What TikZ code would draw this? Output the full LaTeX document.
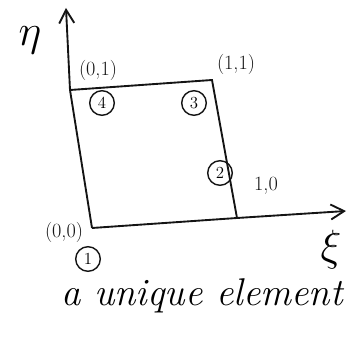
\documentclass[tikz,border=0pt]{standalone}
\usepackage{amsmath,amssymb}
\usepackage{tikz}
\usetikzlibrary{arrows.meta,positioning}
\definecolor{InkBlack}{RGB}{20,20,20}
\tikzset{
  vertexnum/.style={circle,draw=InkBlack,line width=1.2pt,inner sep=0.5pt,minimum size=21pt,font=\Large},
  cornerlabel/.style={font=\LARGE,text=InkBlack},
  axislabel/.style={font=\huge,scale=1.8,transform shape},
  axisline/.style={line width=1.6pt,draw=InkBlack,-{Straight Barb[length=4mm,width=4.5mm]}}
}
\begin{document}
\begin{tikzpicture}[x=0.03cm,y=-0.03cm]
  \useasboundingbox (0,0) rectangle (353,338);
  % corners of the element
  \coordinate (c1) at (92,228);
  \coordinate (c2) at (237,218);
  \coordinate (c3) at (212,80);
  \coordinate (c4) at (70,90);
  \coordinate (etatip) at (66,8);
  \coordinate (xitip) at (346,211);
  % axes
  \draw[axisline] (c1) -- (c4) -- (etatip);
  \draw[axisline] (c1) -- (c2) -- (xitip);
  % element edges
  \draw[line width=1.6pt,InkBlack] (c4) -- (c3) -- (c2);
  \node[axislabel] (eta) at (30,40) {$\eta$};
  \node[axislabel] (xi) at (331,250) {$\xi$};
  % corner labels
  \node[cornerlabel] (l1) at (64,232) {(0,0)};
  \node[cornerlabel] (l2) at (266,186) {1,0};
  \node[cornerlabel] (l3) at (236,64) {(1,1)};
  \node[cornerlabel] (l4) at (98,70) {(0,1)};
  % node numbers
  \node[vertexnum] (n1) at (88,259) {1};
  \node[vertexnum] (n2) at (220,173) {2};
  \node[vertexnum] (n3) at (194,103) {3};
  \node[vertexnum] (n4) at (102,103) {4};
  \node[font=\fontsize{33}{40}\selectfont\itshape] (caption) at (202,296) {a unique element};
\end{tikzpicture}
\end{document}
